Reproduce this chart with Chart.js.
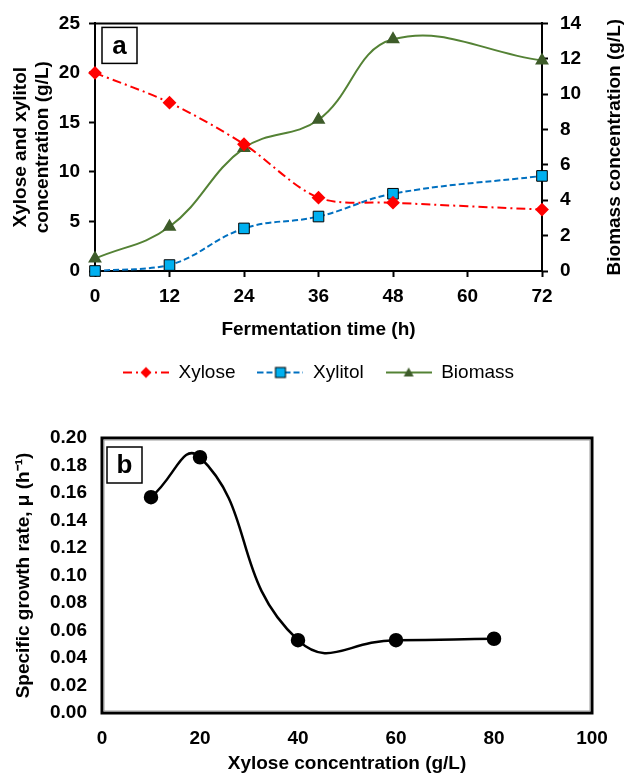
<!DOCTYPE html>
<html>
<head>
<meta charset="utf-8">
<script src="https://cdn.jsdelivr.net/npm/chart.js@4.4.1/dist/chart.umd.min.js"></script>
<style>
  body { margin: 0; background: #fff; width: 625px; height: 775px; overflow: hidden; position: relative; }
  #wa { position: absolute; left: 0; top: 0; width: 625px; height: 395px; }
  #wb { position: absolute; left: 0; top: 400px; width: 625px; height: 375px; }
</style>
</head>
<body>
<div id="wa"><canvas id="ca"></canvas></div>
<div id="wb"><canvas id="cb"></canvas></div>
<script>
// panel a
const timeH = [0, 12, 24, 36, 48, 72];
const xylose = [20, 17, 12.8, 7.4, 6.9, 6.2];
const xylitol = [0, 0.6, 4.3, 5.5, 7.8, 9.6];
const biomass = [0.7, 2.5, 6.95, 8.55, 13.1, 11.9];
// panel b
const xyloseConc = [10, 20, 40, 60, 80];
const growthRate = [0.157, 0.186, 0.053, 0.053, 0.054];

Chart.defaults.font.family = "'Liberation Sans', Arial, sans-serif";
Chart.defaults.color = "#000";

const tickFont = { size: 19, weight: "bold" };
const titleFont = { size: 19, weight: "bold" };

const pts = (xs, ys) => xs.map((x, i) => ({ x: x, y: ys[i] }));

// little line+marker pictures for the legend
function sample(color, dash, marker) {
  const c = document.createElement("canvas");
  c.width = 46;
  c.height = 16;
  const g = c.getContext("2d");
  g.strokeStyle = color;
  g.lineWidth = 2;
  g.setLineDash(dash);
  g.beginPath();
  g.moveTo(0, 8);
  g.lineTo(46, 8);
  g.stroke();
  g.setLineDash([]);
  marker(g, 23, 8);
  return c;
}

const legendPics = [
  sample("#FF0000", [9, 4, 2, 4], (g, x, y) => {
    g.fillStyle = "#FF0000";
    g.beginPath();
    g.moveTo(x - 5.5, y); g.lineTo(x, y - 5.5); g.lineTo(x + 5.5, y); g.lineTo(x, y + 5.5);
    g.closePath();
    g.fill();
  }),
  sample("#0070C0", [6, 3], (g, x, y) => {
    g.fillStyle = "#00B0F0";
    g.strokeStyle = "#000";
    g.lineWidth = 1;
    g.fillRect(x - 5, y - 5, 10, 10);
    g.strokeRect(x - 5, y - 5, 10, 10);
  }),
  sample("#548235", [], (g, x, y) => {
    g.fillStyle = "#3E5C2A";
    g.beginPath();
    g.moveTo(x - 5, y + 4); g.lineTo(x, y - 5); g.lineTo(x + 5, y + 4);
    g.closePath();
    g.fill();
  }),
];

const frame = {
  id: "frame",
  afterDraw(chart, args, opts) {
    const { ctx, chartArea: a } = chart;
    ctx.save();
    if (opts.double) {
      ctx.strokeStyle = "#000";
      ctx.lineWidth = 3;
      ctx.strokeRect(a.left, a.top, a.right - a.left, a.bottom - a.top);
      ctx.strokeStyle = "#999";
      ctx.lineWidth = 1;
      ctx.strokeRect(a.left + 2, a.top + 2, a.right - a.left - 4, a.bottom - a.top - 4);
    } else {
      ctx.strokeStyle = "#000";
      ctx.lineWidth = 2;
      ctx.beginPath();
      ctx.moveTo(a.left, a.top);
      ctx.lineTo(a.right, a.top);
      ctx.stroke();
    }
    // right axis title, read bottom to top like the left one
    if (opts.rightTitle) {
      ctx.save();
      ctx.translate(chart.width - 10, (a.top + a.bottom) / 2);
      ctx.rotate(-Math.PI / 2);
      ctx.font = "bold 19px 'Liberation Sans', Arial, sans-serif";
      ctx.fillStyle = "#000";
      ctx.textAlign = "center";
      ctx.textBaseline = "middle";
      ctx.fillText(opts.rightTitle, 0, 0);
      ctx.restore();
    }
    // panel letter
    const bx = a.left + opts.dx, by = a.top + opts.dy;
    ctx.fillStyle = "#fff";
    ctx.fillRect(bx, by, 35, 36);
    ctx.strokeStyle = "#000";
    ctx.lineWidth = 1.5;
    ctx.strokeRect(bx, by, 35, 36);
    ctx.fillStyle = "#000";
    ctx.font = "bold 26px 'Liberation Sans', Arial, sans-serif";
    ctx.textAlign = "center";
    ctx.textBaseline = "middle";
    ctx.fillText(opts.letter, bx + 17.5, by + 19);
    ctx.restore();
  },
};

new Chart(document.getElementById("ca"), {
  type: "line",
  data: {
    datasets: [
      {
        label: "Xylose",
        data: pts(timeH, xylose),
        yAxisID: "y",
        borderColor: "#FF0000",
        borderWidth: 2,
        borderDash: [9, 4, 2, 4],
        pointStyle: "rectRot",
        pointRadius: 5.5,
        pointBackgroundColor: "#FF0000",
        pointBorderColor: "#FF0000",
        tension: 0.3,
      },
      {
        label: "Xylitol",
        data: pts(timeH, xylitol),
        yAxisID: "y",
        borderColor: "#0070C0",
        borderWidth: 2,
        borderDash: [6, 3],
        pointStyle: "rect",
        pointRadius: 7.5,
        pointBackgroundColor: "#00B0F0",
        pointBorderColor: "#000",
        pointBorderWidth: 1,
        tension: 0.4,
      },
      {
        label: "Biomass",
        data: pts(timeH, biomass),
        yAxisID: "y1",
        borderColor: "#548235",
        borderWidth: 2,
        pointStyle: "triangle",
        pointRadius: 6,
        pointBackgroundColor: "#3E5C2A",
        pointBorderColor: "#3E5C2A",
        tension: 0.4,
      },
    ],
  },
  options: {
    responsive: true,
    maintainAspectRatio: false,
    animation: false,
    clip: false,
    layout: { padding: { top: 22, right: 0, bottom: 3, left: 0 } },
    plugins: {
      tooltip: { enabled: false },
      legend: {
        position: "bottom",
        fullSize: false,
        labels: {
          usePointStyle: true,
          pointStyleWidth: 46,
          padding: 22,
          font: { size: 19 },
          color: "#000",
          generateLabels: (chart) =>
            chart.data.datasets.map((ds, i) => ({
              text: ds.label,
              pointStyle: legendPics[i],
              datasetIndex: i,
              lineWidth: 0,
              strokeStyle: "rgba(0,0,0,0)",
              fillStyle: "rgba(0,0,0,0)",
              hidden: false,
            })),
        },
      },
      frame: { letter: "a", dx: 7, dy: 4, rightTitle: "Biomass concentration (g/L)" },
    },
    scales: {
      x: {
        type: "linear",
        min: 0,
        max: 72,
        ticks: { stepSize: 12, font: tickFont, padding: 8 },
        grid: { drawOnChartArea: false, tickLength: 6, tickColor: "#000", tickWidth: 2 },
        border: { color: "#000", width: 2 },
        title: { display: true, text: "Fermentation time (h)", font: titleFont, padding: { top: 10, bottom: 0 } },
        afterFit: (s) => { s.height = 70; },
      },
      y: {
        position: "left",
        min: 0,
        max: 25,
        ticks: { stepSize: 5, font: tickFont, padding: 9 },
        grid: { drawOnChartArea: false, tickLength: 6, tickColor: "#000", tickWidth: 2 },
        border: { color: "#000", width: 2 },
        title: {
          display: true,
          text: ["Xylose and xylitol", "concentration (g/L)"],
          font: titleFont,
          padding: { top: 9, bottom: 0 },
        },
        afterFit: (s) => { s.width = 95; },
      },
      y1: {
        position: "right",
        min: 0,
        max: 14,
        ticks: { stepSize: 2, font: tickFont, padding: 12 },
        grid: { drawOnChartArea: false, tickLength: 6, tickColor: "#000", tickWidth: 2 },
        border: { color: "#000", width: 2 },
        title: { display: false },
        afterFit: (s) => { s.width = 83; },
      },
    },
  },
  plugins: [frame],
});

new Chart(document.getElementById("cb"), {
  type: "scatter",
  data: {
    datasets: [
      {
        data: pts(xyloseConc, growthRate),
        showLine: true,
        borderColor: "#000",
        borderWidth: 2.5,
        pointRadius: 6,
        pointBackgroundColor: "#000",
        pointBorderColor: "#000",
        tension: 0.5,
      },
    ],
  },
  options: {
    responsive: true,
    maintainAspectRatio: false,
    animation: false,
    layout: { padding: { top: 38, right: 33, bottom: 0, left: 0 } },
    plugins: {
      legend: { display: false },
      tooltip: { enabled: false },
      frame: { letter: "b", dx: 5, dy: 9, double: true },
    },
    scales: {
      x: {
        type: "linear",
        min: 0,
        max: 100,
        ticks: { stepSize: 20, font: tickFont, padding: 14 },
        grid: { display: false, drawTicks: false },
        border: { display: false },
        title: { display: true, text: "Xylose concentration (g/L)", font: titleFont, padding: { top: 0, bottom: 0 } },
        afterFit: (s) => { s.height = 62; },
      },
      y: {
        min: 0,
        max: 0.2,
        ticks: { stepSize: 0.02, font: tickFont, padding: 15, callback: (v) => v.toFixed(2) },
        grid: { display: false, drawTicks: false },
        border: { display: false },
        title: { display: true, text: "Specific growth rate, μ (h⁻¹)", font: titleFont, padding: { top: 12, bottom: 0 } },
        afterFit: (s) => { s.width = 102; },
      },
    },
  },
  plugins: [frame],
});
</script>
</body>
</html>
